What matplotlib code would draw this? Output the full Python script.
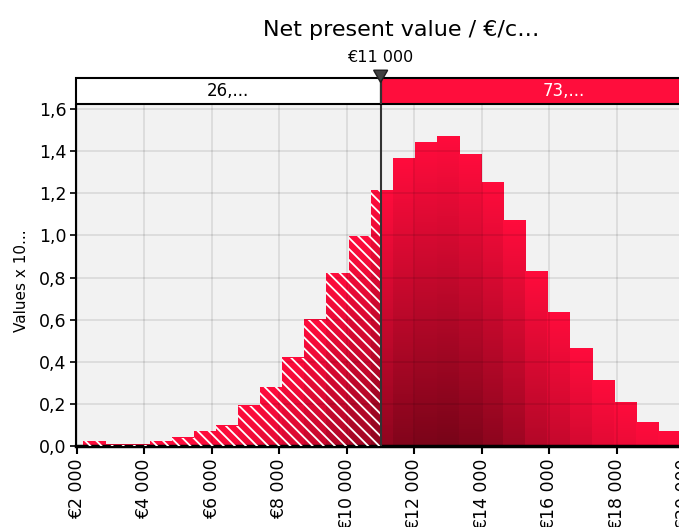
import numpy as np
import matplotlib
matplotlib.use("Agg")
import matplotlib.pyplot as plt
from matplotlib.ticker import FuncFormatter
from matplotlib.patches import Rectangle, Polygon

# histogram data (values x 10^-4 per bin)
bin_start = 2190.0
bin_width = 655.0
heights = [0.022, 0.005, 0.005, 0.022, 0.038, 0.07, 0.095, 0.19, 0.28, 0.42,
           0.60, 0.82, 0.997, 1.215, 1.367, 1.44, 1.47, 1.385, 1.25, 1.07,
           0.83, 0.636, 0.465, 0.31, 0.207, 0.11, 0.071, 0.05]
threshold = 11000
left_pct = "26,..."
right_pct = "73,..."
title = "Net present value / €/c…"
ylabel = "Values x 10..."
xticks = np.arange(2000, 20001, 2000)
yticks = np.arange(0, 1.61, 0.2)

bright = np.array([255, 12, 60]) / 255.0
dark = np.array([118, 4, 24]) / 255.0

plt.rcParams["hatch.linewidth"] = 1.3

W, H = 679, 527
fig = plt.figure(figsize=(W / 100, H / 100), dpi=100)

ax_l, ax_r = 76, 746
x_lo, x_hi = 1970, 21830
ax = fig.add_axes([ax_l / W, (H - 446) / H, (ax_r - ax_l) / W, (446 - 105) / H])
band = fig.add_axes([ax_l / W, (H - 104) / H, (ax_r - ax_l) / W, 26 / H])

ax.set_facecolor("#f2f2f2")


def grad_image(h):
    depth = np.linspace(0, h, 64)
    t = np.clip(depth / 1.5, 0, 1)[:, None]
    return (bright[None, :] * (1 - t) + dark[None, :] * t)[:, None, :]


for k, h in enumerate(heights):
    x0 = bin_start + k * bin_width
    x1 = x0 + bin_width
    img = grad_image(h)
    ax.imshow(img, extent=[x0, x1, 0, h], aspect="auto", origin="upper",
              interpolation="bilinear", zorder=2)
    # hatching for the part below the threshold
    hx1 = min(x1, threshold)
    if x0 < threshold:
        ax.add_patch(Rectangle((x0, 0), hx1 - x0, h, facecolor="none",
                               edgecolor="white", linewidth=0, hatch="\\\\\\",
                               zorder=3))

ax.axvline(threshold, color="#333333", lw=1.5, zorder=5)

ax.set_xlim(x_lo, x_hi)
ax.set_ylim(0, 1.619)
ax.set_xticks(xticks)
ax.set_yticks(yticks)
ax.xaxis.set_major_formatter(FuncFormatter(lambda v, p: "€" + f"{int(v):,}".replace(",", " ")))
ax.yaxis.set_major_formatter(FuncFormatter(lambda v, p: f"{v:.1f}".replace(".", ",")))
ax.tick_params(axis="x", labelrotation=90, labelsize=12.5, length=6, width=1.5, pad=3)
ax.tick_params(axis="y", labelsize=12.5, length=4, width=1.2, pad=3)
ax.set_axisbelow(False)
ax.grid(True, color="black", alpha=0.1, lw=1.2, zorder=4)
for s in ["top", "right"]:
    ax.spines[s].set_visible(False)
ax.spines["left"].set_linewidth(1.5)
ax.spines["bottom"].set_linewidth(2.5)
ax.set_ylabel(ylabel, fontsize=11)
ax.yaxis.set_label_coords(-0.07, 0.485)

# top probability band
band.set_xlim(x_lo, x_hi)
band.set_ylim(0, 1)
band.axis("off")
band.add_patch(Rectangle((x_lo, 0), threshold - x_lo, 1, facecolor="white",
                         edgecolor="black", lw=1.5, clip_on=False))
band.add_patch(Rectangle((threshold, 0), x_hi - threshold, 1, facecolor="#ff0d3c",
                         edgecolor="black", lw=1.5, clip_on=False))
band.text((x_lo + threshold) / 2, 0.5, left_pct, ha="center", va="center",
          fontsize=12, color="black")
band.text((threshold + x_hi) / 2, 0.5, right_pct, ha="center", va="center",
          fontsize=12, color="white")

# threshold marker
tri_w = 7 / ((ax_r - ax_l) / (x_hi - x_lo))
band.add_patch(Polygon([[threshold - tri_w, 1.3], [threshold + tri_w, 1.3],
                        [threshold, 0.83]], closed=True, facecolor="#404040",
                       edgecolor="#202020", lw=1, clip_on=False, zorder=6))
band.plot([threshold, threshold], [0, 1], color="#333333", lw=1.5, zorder=5)
band.text(threshold, 1.5, "€11 000", ha="center", va="bottom", fontsize=11.5)

fig.text(401 / W, 1 - 30 / H, title, ha="center", va="center", fontsize=16)

fig.savefig("out.png", dpi=100)
